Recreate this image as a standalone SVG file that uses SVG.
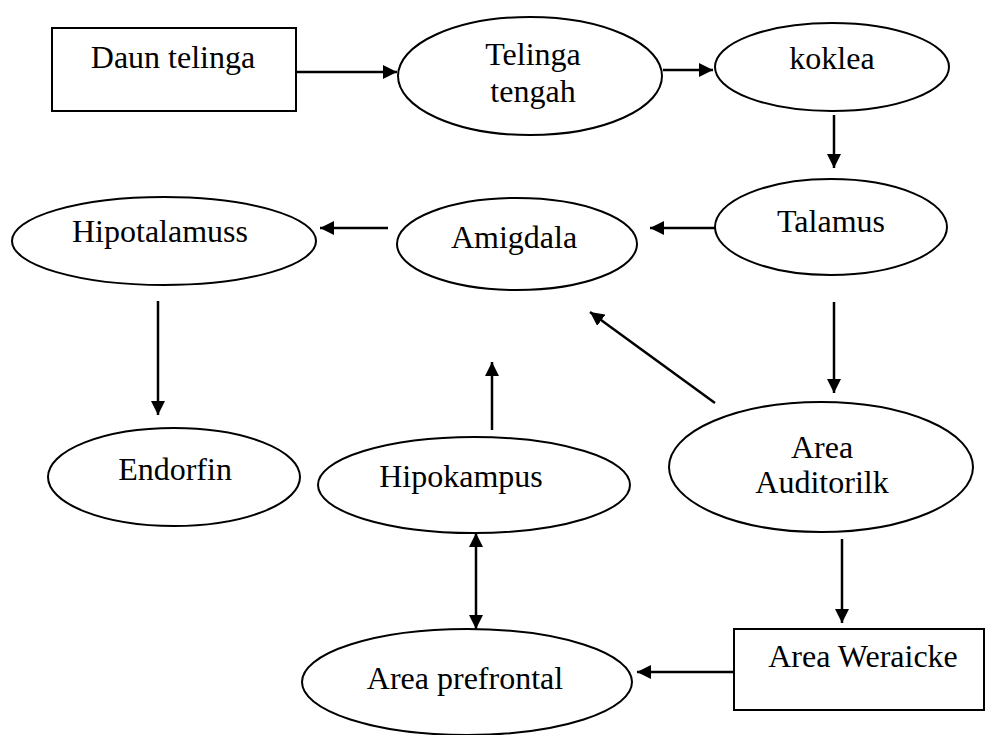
<svg xmlns="http://www.w3.org/2000/svg" width="986" height="735" viewBox="0 0 986 735">
<style>
.shape{fill:#fff;stroke:#000;stroke-width:2}
.lbl{font-family:"Liberation Serif","Times New Roman",serif;font-size:32px;fill:#000;text-anchor:middle}
.conn line{stroke:#000;stroke-width:2.5;fill:none}
</style>
<defs>
<marker id="ah" viewBox="0 0 14 14" markerWidth="14" markerHeight="14" refX="14" refY="7" orient="auto-start-reverse" markerUnits="userSpaceOnUse">
<path d="M0,0 L14,7 L0,14 z" fill="#000"/>
</marker>
</defs>
<rect width="986" height="735" fill="#fff"/>
<g id="daun-telinga"><rect class="shape" x="52" y="28" width="244" height="83"/><text class="lbl" x="173" y="68">Daun telinga</text></g>
<g id="telinga-tengah"><ellipse class="shape" cx="530" cy="76" rx="132" ry="59"/><text class="lbl" x="533" y="65">Telinga</text><text class="lbl" x="533" y="102">tengah</text></g>
<g id="koklea"><ellipse class="shape" cx="832" cy="67" rx="117" ry="44"/><text class="lbl" x="832" y="69">koklea</text></g>
<g id="talamus"><ellipse class="shape" cx="831" cy="227" rx="116" ry="48"/><text class="lbl" x="831" y="232">Talamus</text></g>
<g id="amigdala"><ellipse class="shape" cx="517" cy="244" rx="120" ry="46"/><text class="lbl" x="514" y="248">Amigdala</text></g>
<g id="hipotalamuss"><ellipse class="shape" cx="164" cy="241" rx="152" ry="44"/><text class="lbl" x="160" y="242">Hipotalamuss</text></g>
<g id="endorfin"><ellipse class="shape" cx="174" cy="477" rx="126" ry="49"/><text class="lbl" x="175" y="480">Endorfin</text></g>
<g id="hipokampus"><ellipse class="shape" cx="474" cy="485" rx="156" ry="48"/><text class="lbl" x="461" y="487">Hipokampus</text></g>
<g id="area-auditorilk"><ellipse class="shape" cx="821" cy="467" rx="152" ry="65"/><text class="lbl" x="822" y="458">Area</text><text class="lbl" x="822" y="493">Auditorilk</text></g>
<g id="area-weraicke"><rect class="shape" x="734" y="629" width="250" height="81"/><text class="lbl" x="863" y="667">Area Weraicke</text></g>
<g id="area-prefrontal"><ellipse class="shape" cx="467" cy="682" rx="165" ry="53"/><text class="lbl" x="465" y="689">Area prefrontal</text></g>
<g class="conn" id="connectors">
<line x1="296" y1="72" x2="397" y2="72" marker-end="url(#ah)"/>
<line x1="663" y1="70" x2="713" y2="70" marker-end="url(#ah)"/>
<line x1="834" y1="115" x2="834" y2="168" marker-end="url(#ah)"/>
<line x1="715" y1="228" x2="650" y2="228" marker-end="url(#ah)"/>
<line x1="388" y1="228" x2="320" y2="228" marker-end="url(#ah)"/>
<line x1="158" y1="301" x2="158" y2="415" marker-end="url(#ah)"/>
<line x1="834" y1="302" x2="834" y2="393" marker-end="url(#ah)"/>
<line x1="715" y1="403" x2="590" y2="312" marker-end="url(#ah)"/>
<line x1="492" y1="430" x2="492" y2="362" marker-end="url(#ah)"/>
<line x1="476" y1="533" x2="476" y2="629" marker-start="url(#ah)" marker-end="url(#ah)"/>
<line x1="842" y1="539" x2="842" y2="623" marker-end="url(#ah)"/>
<line x1="734" y1="672" x2="637" y2="672" marker-end="url(#ah)"/>
</g>
</svg>
